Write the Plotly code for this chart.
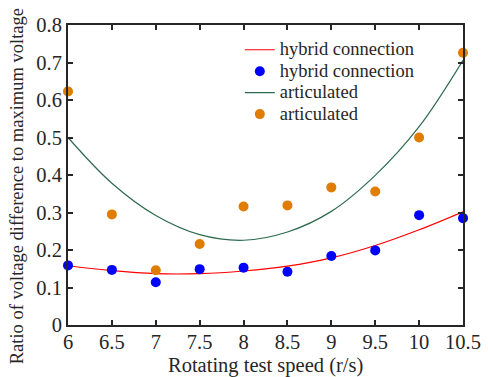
import plotly.graph_objects as go

speed = [6, 6.5, 7, 7.5, 8, 8.5, 9, 9.5, 10, 10.5]
hybrid_pts = [0.159, 0.147, 0.114, 0.149, 0.153, 0.142, 0.184, 0.199, 0.293, 0.285]
artic_pts = [0.623, 0.295, 0.146, 0.216, 0.316, 0.319, 0.367, 0.356, 0.500, 0.726]
hybrid_fit = [0.158, 0.145, 0.137, 0.137, 0.144, 0.157, 0.179, 0.212, 0.254, 0.302]
artic_fit = [0.500, 0.378, 0.292, 0.241, 0.226, 0.248, 0.303, 0.399, 0.529, 0.706]
xticks = [6, 6.5, 7, 7.5, 8, 8.5, 9, 9.5, 10, 10.5]
yticks = [0, 0.1, 0.2, 0.3, 0.4, 0.5, 0.6, 0.7, 0.8]
names = ["hybrid connection", "hybrid connection", "articulated", "articulated"]
y_title = "Ratio of voltage difference to maximum voltage"
x_title = "Rotating test speed (r/s)"

FONT = "Liberation Serif"
AX = "#262626"


def lg(t):
    return f"<span style='font-size:18.5px'>{t}</span>"


fig = go.Figure()
fig.add_trace(go.Scatter(x=speed, y=hybrid_fit, mode="lines", name=lg(names[0]),
                         line=dict(color="#ff0000", width=1.2, shape="spline"), cliponaxis=False))
fig.add_trace(go.Scatter(x=speed, y=hybrid_pts, mode="markers", name=lg(names[1]),
                         marker=dict(color="#0000ff", size=10), cliponaxis=False))
fig.add_trace(go.Scatter(x=speed, y=artic_fit, mode="lines", name=lg(names[2]),
                         line=dict(color="#2e6b4e", width=1.2, shape="spline"), cliponaxis=False))
fig.add_trace(go.Scatter(x=speed, y=artic_pts, mode="markers", name=lg(names[3]),
                         marker=dict(color="#e07c00", size=10), cliponaxis=False))

axis_common = dict(showline=True, linecolor=AX, linewidth=2, mirror="ticks",
                   ticks="inside", ticklen=5, tickwidth=1.5, tickcolor=AX,
                   showgrid=False, zeroline=False, automargin=False,
                   tickfont=dict(family=FONT, size=20.5, color=AX))

fig.update_xaxes(range=[6, 10.5], tickvals=xticks, ticktext=[f"{v:g}" for v in xticks],
                 ticklabelstandoff=-3, **axis_common)
fig.update_yaxes(range=[0, 0.8], tickvals=yticks, ticktext=[f"{v:g}" for v in yticks],
                 **axis_common)

fig.add_annotation(text=y_title, textangle=-90, xref="paper", yref="paper",
                   x=-0.127, y=0.462, xanchor="center", yanchor="middle", showarrow=False,
                   font=dict(family=FONT, size=18.5, color=AX))
fig.add_annotation(text=x_title, xref="paper", yref="paper",
                   x=0.499, y=-0.135, xanchor="center", yanchor="middle", showarrow=False,
                   font=dict(family=FONT, size=20.5, color=AX))

fig.update_layout(
    width=488, height=377,
    margin=dict(l=68, r=25, t=25, b=52),
    paper_bgcolor="white", plot_bgcolor="white",
    font=dict(family=FONT, color=AX),
    legend=dict(x=0.435, y=0.97, xanchor="left", yanchor="top",
                bgcolor="rgba(0,0,0,0)", font=dict(family=FONT, size=14.2, color=AX),
                tracegroupgap=0, itemwidth=30),
    showlegend=True,
)

fig.write_html("out.html")
